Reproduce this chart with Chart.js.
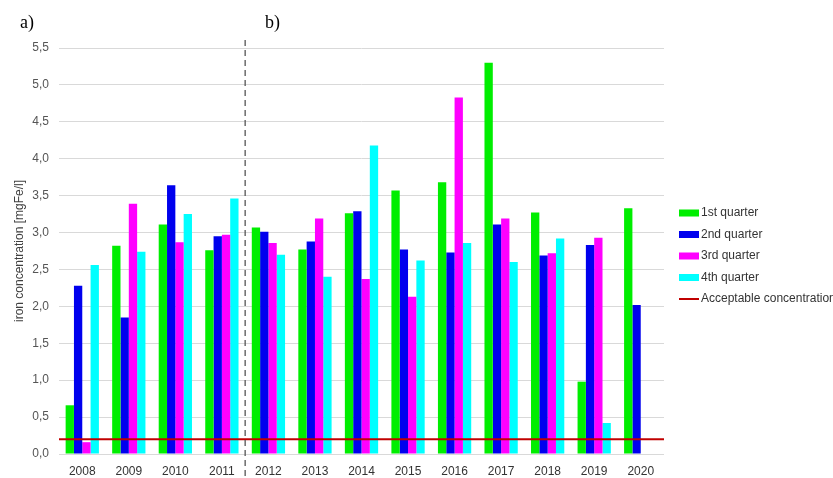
<!DOCTYPE html>
<html><head><meta charset="utf-8">
<script src="https://cdn.jsdelivr.net/npm/chart.js@4"></script>
<style>html,body{margin:0;padding:0;background:#fff}#wrap{width:833px;height:478px}</style>
</head><body><div id="wrap"><canvas id="c" width="833" height="478"></canvas></div>
<script>
const years = ['2008','2009','2010','2011','2012','2013','2014','2015','2016','2017','2018','2019','2020'];
const q1 = [0.66, 2.82, 3.11, 2.76, 3.07, 2.77, 3.26, 3.57, 3.68, 5.30, 3.27, 0.98, 3.33];
const q2 = [2.28, 1.85, 3.64, 2.95, 3.01, 2.88, 3.29, 2.77, 2.73, 3.11, 2.69, 2.83, 2.02];
const q3 = [0.16, 3.39, 2.87, 2.97, 2.86, 3.19, 2.37, 2.13, 4.83, 3.19, 2.72, 2.93, null];
const q4 = [2.56, 2.74, 3.25, 3.46, 2.70, 2.40, 4.18, 2.62, 2.86, 2.60, 2.92, 0.42, null];
const acceptableLevel = 0.2;
const seriesNames = ['1st quarter','2nd quarter','3rd quarter','4th quarter','Acceptable concentration'];
const panelLabels = ['a)','b)'];
const yAxisTitle = 'iron concentration [mgFe/l]';

const colors = ['#00ee00','#0000ee','#ff00ff','#00ffff','#c00000'];
const FONT = 'Liberation Sans, Arial, sans-serif';

const extras = {
  id:'extras',
  afterDatasetsDraw(chart){
    const ctx = chart.ctx, y = chart.scales.y, a = chart.chartArea;
    const py = y.getPixelForValue(acceptableLevel);
    ctx.save();
    ctx.strokeStyle = colors[4]; ctx.lineWidth = 2;
    ctx.beginPath(); ctx.moveTo(a.left, py); ctx.lineTo(a.right, py); ctx.stroke();
    ctx.restore();
  },
  afterDraw(chart){
    const ctx = chart.ctx, x = chart.scales.x;
    const sx = (x.getPixelForValue(3) + x.getPixelForValue(4)) / 2;
    ctx.save();
    ctx.strokeStyle = '#555';
    ctx.lineWidth = 1.3;
    ctx.setLineDash([6,4]);
    ctx.beginPath(); ctx.moveTo(sx, 40); ctx.lineTo(sx, 478); ctx.stroke();
    ctx.setLineDash([]);
    ctx.fillStyle = '#000';
    ctx.font = '18px "Liberation Serif", "Times New Roman", serif';
    ctx.textBaseline = 'alphabetic';
    ctx.fillText(panelLabels[0], 20, 28);
    ctx.fillText(panelLabels[1], 265, 28);
    ctx.font = '12px ' + FONT;
    ctx.textBaseline = 'middle';
    const lx = 679, ly0 = 213, step = 21.5;
    seriesNames.forEach((name, i) => {
      const yy = ly0 + i * step;
      if (i === 4) {
        ctx.strokeStyle = colors[4]; ctx.lineWidth = 2;
        ctx.beginPath(); ctx.moveTo(lx, yy); ctx.lineTo(lx + 20, yy); ctx.stroke();
      } else {
        ctx.fillStyle = colors[i];
        ctx.fillRect(lx, yy - 3.5, 20, 7);
      }
      ctx.fillStyle = '#333';
      ctx.fillText(name, lx + 22, yy);
    });
    ctx.restore();
  }
};

const barDs = [q1,q2,q3,q4].map((d,i) => ({
  label: seriesNames[i], data: d, backgroundColor: colors[i],
  borderWidth:0, barPercentage:1, categoryPercentage:0.715
}));

new Chart(document.getElementById('c'), {
  type:'bar',
  data: { labels: years, datasets: barDs },
  options: {
    responsive:false, animation:false, devicePixelRatio:1,
    layout:{padding:{left:0,right:169,top:48,bottom:0}},
    plugins:{legend:{display:false}, tooltip:{enabled:false}},
    scales:{
      x:{
        grid:{display:false}, border:{display:false},
        ticks:{color:'#333', font:{family:FONT,size:12}, padding:2, maxRotation:0},
        afterFit(s){ s.height = 24; }
      },
      y:{
        min:0, max:5.5,
        ticks:{stepSize:0.5, color:'#555', font:{family:FONT,size:12}, padding:10,
          callback:v => v.toFixed(1).replace('.', ',')},
        grid:{color:'#d9d9d9', drawTicks:false, lineWidth:1},
        border:{display:false},
        title:{display:true, text:yAxisTitle, color:'#404040', font:{family:FONT,size:12}, padding:{top:12,bottom:0}},
        afterFit(s){ s.width = 59; }
      }
    }
  },
  plugins:[extras]
});
</script>
</body></html>
